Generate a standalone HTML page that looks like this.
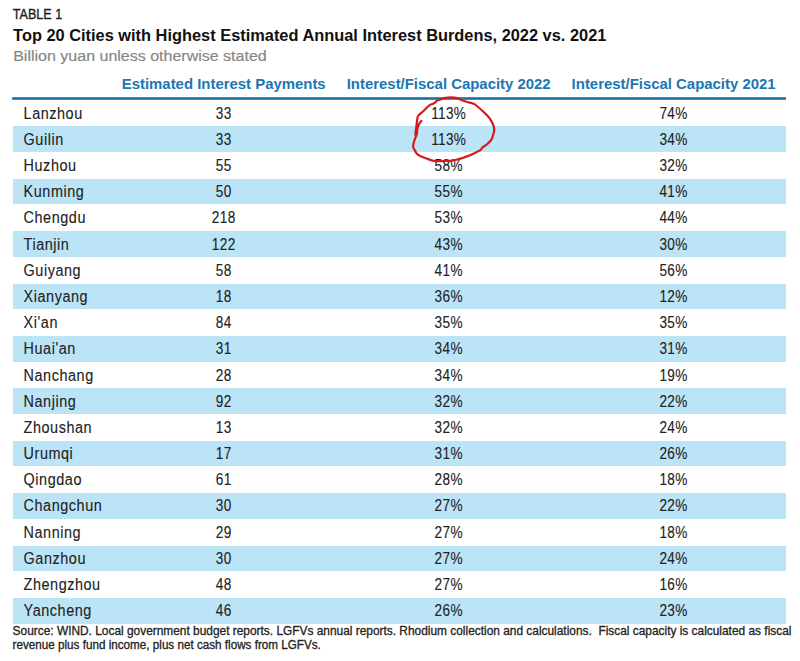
<!DOCTYPE html>
<html><head><meta charset="utf-8"><style>
html,body{margin:0;padding:0;background:#fff;width:800px;height:661px;overflow:hidden;position:relative}
body{font-family:"Liberation Sans",sans-serif;color:#1a1a1a}
.t,.h,.c,.n,.src{position:absolute;left:0;top:0;white-space:nowrap;line-height:1;transform-origin:0 0}
#lab{font-size:14px;transform:translate(12.8px,6.5px) scaleX(0.898);color:#1e1e1e;-webkit-text-stroke:0.35px #1e1e1e}
#title{font-size:15.6px;transform:translate(13.1px,28.0px) scaleX(1.05);font-weight:bold;color:#111}
#sub{font-size:14px;transform:translate(13.2px,49.0px) scaleX(1.143);color:#858585;-webkit-text-stroke:0.15px #858585}
.h{font-size:14.6px;font-weight:bold;color:#1b76b3;text-align:center;width:300px;transform-origin:50% 0}
#h1{transform:translate(73.70px,76.5px) scaleX(1.022)}
#h2{transform:translate(298.70px,76.5px) scaleX(1.022)}
#h3{transform:translate(523.60px,76.5px) scaleX(1.022)}
#rule{position:absolute;left:0;top:0}
.bd{position:absolute;left:13px;width:773px;height:25.6px;background:#bce4f7}
.c{letter-spacing:0.62px}
.n{letter-spacing:0.4px}
.c,.n{font-size:16px;color:#222;-webkit-text-stroke:0.12px #222}
.n{width:200px;text-align:center;transform-origin:50% 0}
#circ{position:absolute;left:0;top:0}
.src{font-size:12.2px;color:#222;-webkit-text-stroke:0.3px #222}
#s1{transform:translate(12.6px,624.5px) scaleX(0.976)}
#s2{transform:translate(12.6px,638.5px) scaleX(0.958)}
</style></head><body>
<div class="bd" style="top:126.22px"></div>
<div class="bd" style="top:178.66px"></div>
<div class="bd" style="top:231.10px"></div>
<div class="bd" style="top:283.54px"></div>
<div class="bd" style="top:335.98px"></div>
<div class="bd" style="top:388.42px"></div>
<div class="bd" style="top:440.86px"></div>
<div class="bd" style="top:493.30px"></div>
<div class="bd" style="top:545.74px"></div>
<div class="bd" style="top:598.18px"></div>
<svg id="rule" width="800" height="661" viewBox="0 0 800 661"><rect x="12.2" y="97.2" width="773.8" height="2.6" fill="#1a70a4"/></svg>
<div class="t" id="lab">TABLE 1</div>
<div class="t" id="title">Top 20 Cities with Highest Estimated Annual Interest Burdens, 2022 vs. 2021</div>
<div class="t" id="sub">Billion yuan unless otherwise stated</div>
<div class="h" id="h1">Estimated Interest Payments</div>
<div class="h" id="h2">Interest/Fiscal Capacity 2022</div>
<div class="h" id="h3">Interest/Fiscal Capacity 2021</div>
<span class="c" style="transform:translate(23.6px,105.5px) scaleX(0.9)">Lanzhou</span>
<span class="n" style="transform:translate(123.70px,105.5px) scaleX(0.85)">33</span>
<span class="n" style="transform:translate(348.70px,105.5px) scaleX(0.85)">113%</span>
<span class="n" style="transform:translate(573.60px,105.5px) scaleX(0.85)">74%</span>
<span class="c" style="transform:translate(23.6px,131.5px) scaleX(0.9)">Guilin</span>
<span class="n" style="transform:translate(123.70px,131.5px) scaleX(0.85)">33</span>
<span class="n" style="transform:translate(348.70px,131.5px) scaleX(0.85)">113%</span>
<span class="n" style="transform:translate(573.60px,131.5px) scaleX(0.85)">34%</span>
<span class="c" style="transform:translate(23.6px,157.5px) scaleX(0.9)">Huzhou</span>
<span class="n" style="transform:translate(123.70px,157.5px) scaleX(0.85)">55</span>
<span class="n" style="transform:translate(348.70px,157.5px) scaleX(0.85)">58%</span>
<span class="n" style="transform:translate(573.60px,157.5px) scaleX(0.85)">32%</span>
<span class="c" style="transform:translate(23.6px,183.5px) scaleX(0.9)">Kunming</span>
<span class="n" style="transform:translate(123.70px,183.5px) scaleX(0.85)">50</span>
<span class="n" style="transform:translate(348.70px,183.5px) scaleX(0.85)">55%</span>
<span class="n" style="transform:translate(573.60px,183.5px) scaleX(0.85)">41%</span>
<span class="c" style="transform:translate(23.6px,209.5px) scaleX(0.9)">Chengdu</span>
<span class="n" style="transform:translate(123.70px,209.5px) scaleX(0.85)">218</span>
<span class="n" style="transform:translate(348.70px,209.5px) scaleX(0.85)">53%</span>
<span class="n" style="transform:translate(573.60px,209.5px) scaleX(0.85)">44%</span>
<span class="c" style="transform:translate(23.6px,236.5px) scaleX(0.9)">Tianjin</span>
<span class="n" style="transform:translate(123.70px,236.5px) scaleX(0.85)">122</span>
<span class="n" style="transform:translate(348.70px,236.5px) scaleX(0.85)">43%</span>
<span class="n" style="transform:translate(573.60px,236.5px) scaleX(0.85)">30%</span>
<span class="c" style="transform:translate(23.6px,262.5px) scaleX(0.9)">Guiyang</span>
<span class="n" style="transform:translate(123.70px,262.5px) scaleX(0.85)">58</span>
<span class="n" style="transform:translate(348.70px,262.5px) scaleX(0.85)">41%</span>
<span class="n" style="transform:translate(573.60px,262.5px) scaleX(0.85)">56%</span>
<span class="c" style="transform:translate(23.6px,288.5px) scaleX(0.9)">Xianyang</span>
<span class="n" style="transform:translate(123.70px,288.5px) scaleX(0.85)">18</span>
<span class="n" style="transform:translate(348.70px,288.5px) scaleX(0.85)">36%</span>
<span class="n" style="transform:translate(573.60px,288.5px) scaleX(0.85)">12%</span>
<span class="c" style="transform:translate(23.6px,314.5px) scaleX(0.9)">Xi'an</span>
<span class="n" style="transform:translate(123.70px,314.5px) scaleX(0.85)">84</span>
<span class="n" style="transform:translate(348.70px,314.5px) scaleX(0.85)">35%</span>
<span class="n" style="transform:translate(573.60px,314.5px) scaleX(0.85)">35%</span>
<span class="c" style="transform:translate(23.6px,340.5px) scaleX(0.9)">Huai'an</span>
<span class="n" style="transform:translate(123.70px,340.5px) scaleX(0.85)">31</span>
<span class="n" style="transform:translate(348.70px,340.5px) scaleX(0.85)">34%</span>
<span class="n" style="transform:translate(573.60px,340.5px) scaleX(0.85)">31%</span>
<span class="c" style="transform:translate(23.6px,367.5px) scaleX(0.9)">Nanchang</span>
<span class="n" style="transform:translate(123.70px,367.5px) scaleX(0.85)">28</span>
<span class="n" style="transform:translate(348.70px,367.5px) scaleX(0.85)">34%</span>
<span class="n" style="transform:translate(573.60px,367.5px) scaleX(0.85)">19%</span>
<span class="c" style="transform:translate(23.6px,393.5px) scaleX(0.9)">Nanjing</span>
<span class="n" style="transform:translate(123.70px,393.5px) scaleX(0.85)">92</span>
<span class="n" style="transform:translate(348.70px,393.5px) scaleX(0.85)">32%</span>
<span class="n" style="transform:translate(573.60px,393.5px) scaleX(0.85)">22%</span>
<span class="c" style="transform:translate(23.6px,419.5px) scaleX(0.9)">Zhoushan</span>
<span class="n" style="transform:translate(123.70px,419.5px) scaleX(0.85)">13</span>
<span class="n" style="transform:translate(348.70px,419.5px) scaleX(0.85)">32%</span>
<span class="n" style="transform:translate(573.60px,419.5px) scaleX(0.85)">24%</span>
<span class="c" style="transform:translate(23.6px,445.5px) scaleX(0.9)">Urumqi</span>
<span class="n" style="transform:translate(123.70px,445.5px) scaleX(0.85)">17</span>
<span class="n" style="transform:translate(348.70px,445.5px) scaleX(0.85)">31%</span>
<span class="n" style="transform:translate(573.60px,445.5px) scaleX(0.85)">26%</span>
<span class="c" style="transform:translate(23.6px,471.5px) scaleX(0.9)">Qingdao</span>
<span class="n" style="transform:translate(123.70px,471.5px) scaleX(0.85)">61</span>
<span class="n" style="transform:translate(348.70px,471.5px) scaleX(0.85)">28%</span>
<span class="n" style="transform:translate(573.60px,471.5px) scaleX(0.85)">18%</span>
<span class="c" style="transform:translate(23.6px,497.5px) scaleX(0.9)">Changchun</span>
<span class="n" style="transform:translate(123.70px,497.5px) scaleX(0.85)">30</span>
<span class="n" style="transform:translate(348.70px,497.5px) scaleX(0.85)">27%</span>
<span class="n" style="transform:translate(573.60px,497.5px) scaleX(0.85)">22%</span>
<span class="c" style="transform:translate(23.6px,524.5px) scaleX(0.9)">Nanning</span>
<span class="n" style="transform:translate(123.70px,524.5px) scaleX(0.85)">29</span>
<span class="n" style="transform:translate(348.70px,524.5px) scaleX(0.85)">27%</span>
<span class="n" style="transform:translate(573.60px,524.5px) scaleX(0.85)">18%</span>
<span class="c" style="transform:translate(23.6px,550.5px) scaleX(0.9)">Ganzhou</span>
<span class="n" style="transform:translate(123.70px,550.5px) scaleX(0.85)">30</span>
<span class="n" style="transform:translate(348.70px,550.5px) scaleX(0.85)">27%</span>
<span class="n" style="transform:translate(573.60px,550.5px) scaleX(0.85)">24%</span>
<span class="c" style="transform:translate(23.6px,576.5px) scaleX(0.9)">Zhengzhou</span>
<span class="n" style="transform:translate(123.70px,576.5px) scaleX(0.85)">48</span>
<span class="n" style="transform:translate(348.70px,576.5px) scaleX(0.85)">27%</span>
<span class="n" style="transform:translate(573.60px,576.5px) scaleX(0.85)">16%</span>
<span class="c" style="transform:translate(23.6px,602.5px) scaleX(0.9)">Yancheng</span>
<span class="n" style="transform:translate(123.70px,602.5px) scaleX(0.85)">46</span>
<span class="n" style="transform:translate(348.70px,602.5px) scaleX(0.85)">26%</span>
<span class="n" style="transform:translate(573.60px,602.5px) scaleX(0.85)">23%</span>
<svg id="circ" width="800" height="661" viewBox="0 0 800 661"><path d="M421.5,120.8 C421.2,121.2 420.3,122.1 419.8,122.9 C419.3,123.7 418.7,124.7 418.3,125.8 C417.9,126.9 417.5,128.2 417.3,129.5 C417.1,130.8 417.2,132.3 416.9,133.8 C416.6,135.2 415.8,136.6 415.3,138.1 C414.8,139.6 414.1,141.0 413.8,142.5 C413.4,144.0 412.9,145.6 413.1,146.9 C413.3,148.2 414.4,149.5 415.0,150.6 C415.6,151.7 416.2,152.9 416.9,153.8 C417.6,154.6 418.3,155.0 419.4,155.6 C420.5,156.2 422.2,156.9 423.8,157.5 C425.3,158.1 427.1,158.8 428.8,159.4 C430.4,160.0 432.1,160.6 433.8,160.9 C435.4,161.2 437.1,161.2 438.8,161.2 C440.4,161.2 441.9,161.0 443.8,160.9 C445.6,160.8 447.9,161.0 450.0,160.8 C452.1,160.6 454.4,160.1 456.2,159.7 C458.1,159.3 459.7,158.9 461.2,158.4 C462.8,157.9 464.1,157.4 465.6,156.9 C467.1,156.4 468.6,155.9 470.0,155.3 C471.4,154.7 472.5,154.0 473.8,153.4 C475.0,152.8 476.4,152.2 477.5,151.6 C478.6,151.0 479.8,150.7 480.6,150.0 C481.4,149.3 481.8,148.2 482.5,147.5 C483.2,146.8 484.2,146.5 485.0,145.9 C485.8,145.3 486.7,144.5 487.5,143.8 C488.3,143.0 489.3,142.1 490.0,141.2 C490.7,140.4 491.4,139.8 491.9,138.8 C492.4,137.7 492.7,136.4 493.1,135.0 C493.5,133.6 494.1,131.7 494.2,130.1 C494.3,128.5 494.1,127.3 493.5,125.6 C492.9,123.9 491.9,121.8 490.8,120.1 C489.8,118.4 488.6,117.1 487.2,115.6 C485.8,114.1 484.1,112.4 482.6,111.0 C481.1,109.6 479.6,108.2 478.1,107.0 C476.6,105.8 475.4,104.6 473.6,103.8 C471.8,103.0 469.2,102.6 467.2,102.0 C465.2,101.4 463.6,100.9 461.8,100.2 C460.0,99.5 458.1,98.4 456.3,97.9 C454.5,97.4 452.7,97.3 450.9,97.3 C449.1,97.3 447.1,97.5 445.4,97.9 C443.7,98.3 441.9,99.0 440.5,99.5 C439.1,100.0 438.0,100.1 437.1,100.6 C436.2,101.1 435.9,101.8 435.3,102.3 C434.7,102.8 434.3,103.1 433.5,103.5 C432.7,103.9 431.4,104.1 430.5,104.6 C429.6,105.1 428.9,105.7 428.0,106.5 C427.1,107.3 426.0,108.5 425.0,109.5 C424.0,110.5 423.0,111.4 422.0,112.3 C421.0,113.2 419.6,114.2 418.9,115.0 C418.2,115.8 418.0,115.9 417.7,116.8 C417.4,117.7 417.3,119.1 417.1,120.5 C416.9,121.9 416.7,123.7 416.5,125.3 C416.3,126.9 416.1,128.6 415.9,130.2 C415.7,131.8 415.4,134.2 415.3,135.0" fill="none" stroke="#d41a1a" stroke-width="2.2" stroke-linecap="round" stroke-linejoin="round"/></svg>
<div class="src" id="s1">Source: WIND. Local government budget reports. LGFVs annual reports. Rhodium collection and calculations.&nbsp; Fiscal capacity is calculated as fiscal</div>
<div class="src" id="s2">revenue plus fund income, plus net cash flows from LGFVs.</div>
</body></html>
